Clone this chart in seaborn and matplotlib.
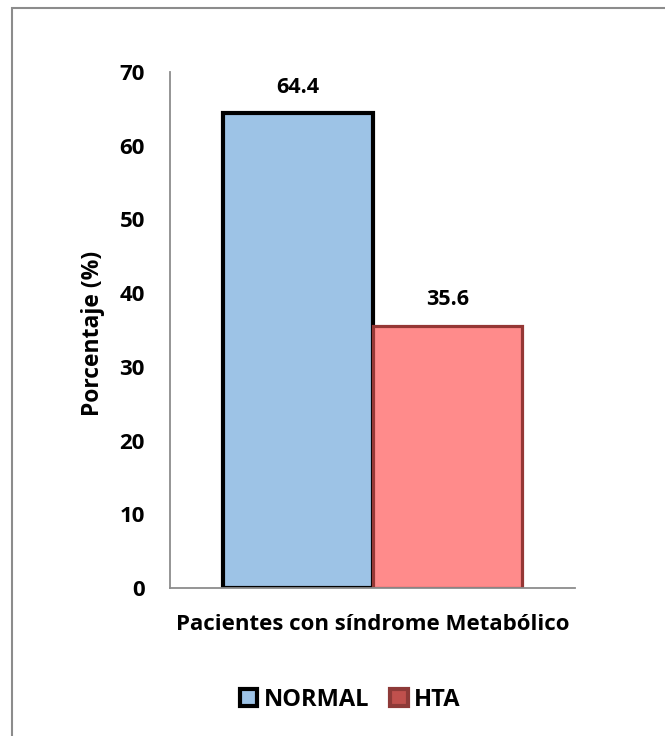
import matplotlib
matplotlib.use("Agg")
import matplotlib.pyplot as plt
from matplotlib.patches import Rectangle, Patch
import seaborn as sns
import pandas as pd

# Data
category = ["Pacientes con síndrome Metabólico"]
groups = ["NORMAL", "HTA"]
values = [64.4, 35.6]
yticks = [0, 10, 20, 30, 40, 50, 60, 70]

fill_colors = {"NORMAL": "#9DC3E6", "HTA": "#FF8B8B"}
edge_colors = {"NORMAL": "#000000", "HTA": "#953735"}
edge_widths = {"NORMAL": 3.0, "HTA": 2.3}

df = pd.DataFrame({"categoria": category * len(groups), "grupo": groups, "valor": values})

sns.set_theme(style="white")
plt.rcParams["font.family"] = ["Open Sans", "DejaVu Sans"]
plt.rcParams["font.weight"] = "bold"
for key in ["text.color", "axes.labelcolor", "xtick.color", "ytick.color"]:
    plt.rcParams[key] = "#000000"

fig = plt.figure(figsize=(6.65, 7.36), dpi=100)
fig.patch.set_facecolor("white")

# Outer chart frame
fig.add_artist(Rectangle((12 / 665, -0.2), 1.2, 1.2 - 8 / 736,
                         transform=fig.transFigure, fill=False,
                         edgecolor="#8C8C8C", linewidth=1.5))

ax = fig.add_axes([170 / 665, (736 - 588) / 736, 405 / 665, 516 / 736])

sns.barplot(data=df, x="categoria", y="valor", hue="grupo", hue_order=groups,
            palette=fill_colors, width=0.74, ax=ax, legend=False,
            saturation=1)

for patch, g in zip(ax.patches, groups):
    patch.set_edgecolor(edge_colors[g])
    patch.set_linewidth(edge_widths[g])
    patch.set_joinstyle("miter")
    h = patch.get_height()
    ax.text(patch.get_x() + patch.get_width() / 2, h + 3.5, f"{h:.1f}",
            ha="center", va="center", fontsize=15.5, fontweight="bold", color="#000000")

ax.set_ylim(0, 70)
ax.set_xlim(-0.5, 0.5)
ax.set_yticks(yticks)
ax.set_yticklabels([str(t) for t in yticks], fontsize=16, fontweight="bold")
ax.tick_params(axis="y", length=0, pad=18)
ax.tick_params(axis="x", length=0, pad=19)
ax.set_xticks([0])
ax.set_xticklabels(category, fontsize=16, fontweight="bold")
ax.set_xlabel("")
ax.set_ylabel("Porcentaje (%)", fontsize=16.5, fontweight="bold")
ax.yaxis.set_label_coords(-0.16, 0.494)

for side in ["top", "right"]:
    ax.spines[side].set_visible(False)
for side in ["left", "bottom"]:
    ax.spines[side].set_color("#8C8C8C")
    ax.spines[side].set_linewidth(1.3)
ax.set_facecolor("white")

handles = [
    Patch(facecolor="#9DC3E6", edgecolor="#000000", linewidth=3, label="NORMAL"),
    Patch(facecolor="#C0504D", edgecolor="#8E3A38", linewidth=3, label="HTA"),
]
fig.legend(handles=handles, loc="center", bbox_to_anchor=(350 / 665, 1 - 700 / 736),
           ncol=2, frameon=False, handlelength=0.75, handleheight=0.75,
           handletextpad=0.25, columnspacing=0.9, prop={"weight": "bold", "size": 17})

fig.savefig("out.png", dpi=100, facecolor="white")
